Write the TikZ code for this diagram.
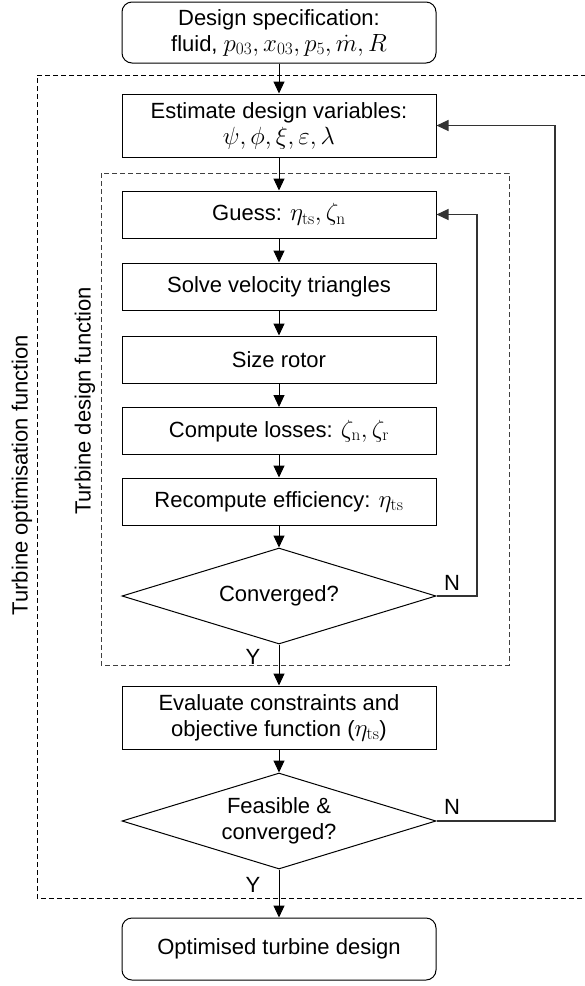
\documentclass[tikz,border=0pt]{standalone}
\usepackage[no-math]{fontspec}
\setmainfont{Liberation Sans}
\usetikzlibrary{shapes.geometric,arrows.meta}

% math set a little larger than the surrounding text
\newcommand\mth[1]{{\fontsize{25}{26}\selectfont$#1$}}

\tikzset{
  procbox/.style={draw, line width=1pt, minimum width=314pt, inner sep=0pt, align=center},
  termbox/.style={procbox, rounded corners=10pt},
  decision/.style={draw, diamond, line width=1pt, aspect=3.27, inner sep=0pt,
    minimum width=314pt, minimum height=96pt, align=center},
  flow/.style={line width=1pt, -{Triangle[length=12pt,width=11pt]}},
  loopline/.style={line width=1.2pt, draw=black!80, -{Triangle[length=12pt,width=11pt]}},
  frame/.style={line width=1pt, dash pattern=on 5pt off 3pt},
  yn/.style={inner sep=0pt},
  sidelabel/.style={rotate=90, inner sep=0pt}
}

\begin{document}
\begin{tikzpicture}[x=1pt, y=-1pt, font=\fontsize{22}{26}\selectfont]
\useasboundingbox (0,0) rectangle (585,986);

% dashed frames of the two functions
\draw[frame] (586,75) -- (37,75) -- (37,898) -- (586,898);
\draw[frame, draw=black!75] (101,173) rectangle (509,665);
\node[sidelabel] (optlabel) at (22,475) {Turbine optimisation function};
\node[sidelabel] (deslabel) at (85,401) {Turbine design function};

% process steps
\node[termbox, minimum height=61pt] (spec) at (279,32.5)
  {Design specification:\\fluid, \mth{p_{03}, x_{03}, p_{5}, \dot{m}, R}};
\node[procbox, minimum height=63pt] (estimate) at (279,125.5)
  {Estimate design variables:\\\mth{\psi, \phi, \xi, \varepsilon, \lambda}};
\node[procbox, minimum height=47pt] (guess) at (279,214.5)
  {Guess: \mth{\eta_{\mathrm{ts}}, \zeta_{\mathrm{n}}}};
\node[procbox, minimum height=47pt] (solve) at (279,286.5)
  {Solve velocity triangles};
\node[procbox, minimum height=47pt] (size) at (279,359.5)
  {Size rotor};
\node[procbox, minimum height=47pt] (losses) at (279,431)
  {Compute losses: \mth{\zeta_{\mathrm{n}}, \zeta_{\mathrm{r}}}};
\node[procbox, minimum height=47pt] (recompute) at (279,501.5)
  {Recompute efficiency: \mth{\eta_{\mathrm{ts}}}};
\node[decision] (conv) at (279,596) {Converged?};
\node[procbox, minimum height=63pt] (evaluate) at (279,717.5)
  {Evaluate constraints and\\objective function (\mth{\eta_{\mathrm{ts}}})};
\node[decision] (feasible) at (279,821) {Feasible \&\\converged?};
\node[termbox, minimum height=62pt] (final) at (279,949)
  {Optimised turbine design};

% main flow
\draw[flow] (spec) -- (estimate);
\draw[flow] (estimate) -- (guess);
\draw[flow] (guess) -- (solve);
\draw[flow] (solve) -- (size);
\draw[flow] (size) -- (losses);
\draw[flow] (losses) -- (recompute);
\draw[flow] (recompute) -- (conv);
\draw[flow] (conv) -- (evaluate);
\draw[flow] (evaluate) -- (feasible);
\draw[flow] (feasible) -- (final);

% feedback loops
\coordinate (innerA) at (477,596);
\coordinate (innerB) at (477,214.5);
\draw[loopline] (conv.east) -- (innerA) -- (innerB) -- (guess.east);
\coordinate (outerA) at (555,821);
\coordinate (outerB) at (555,125.5);
\draw[loopline] (feasible.east) -- (outerA) -- (outerB) -- (estimate.east);

% branch labels
\node[yn] (convN) at (452,583) {N};
\node[yn] (convY) at (253,657) {Y};
\node[yn] (feasN) at (452,807) {N};
\node[yn] (feasY) at (253,885) {Y};
\end{tikzpicture}
\end{document}
